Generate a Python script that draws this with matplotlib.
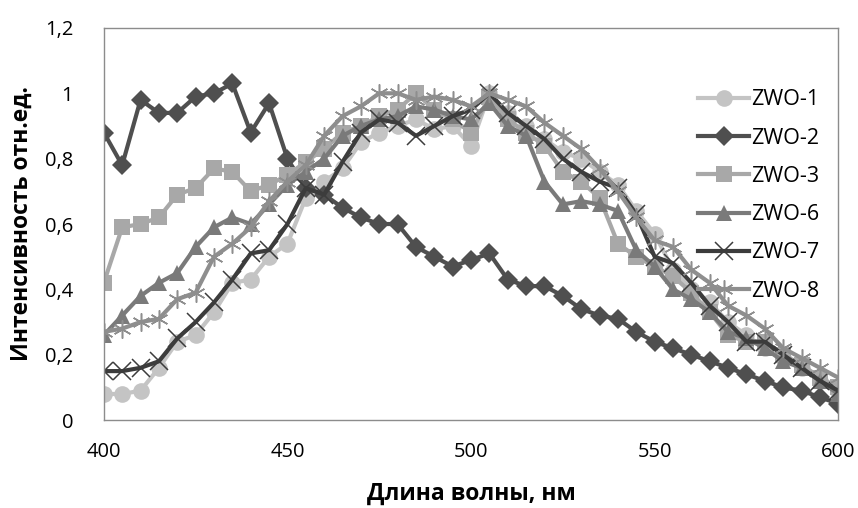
import matplotlib
matplotlib.use("Agg")
import matplotlib.pyplot as plt
from matplotlib.ticker import FuncFormatter

# длина волны, нм
wavelength = list(range(400, 601, 5))

zwo_1 = [0.08, 0.08, 0.09, 0.16, 0.24, 0.26, 0.33, 0.42, 0.43, 0.50,
         0.54, 0.68, 0.73, 0.77, 0.85, 0.88, 0.90, 0.92, 0.89, 0.90,
         0.84, 1.00, 0.94, 0.90, 0.86, 0.82, 0.80, 0.76, 0.72, 0.64,
         0.57, 0.46, 0.40, 0.36, 0.30, 0.26, 0.22, 0.19, 0.16, 0.12, 0.09]
zwo_2 = [0.88, 0.78, 0.98, 0.94, 0.94, 0.99, 1.00, 1.03, 0.88, 0.97,
         0.80, 0.71, 0.69, 0.65, 0.62, 0.60, 0.60, 0.53, 0.50, 0.47,
         0.49, 0.51, 0.43, 0.41, 0.41, 0.38, 0.34, 0.32, 0.31, 0.27,
         0.24, 0.22, 0.20, 0.18, 0.16, 0.14, 0.12, 0.10, 0.09, 0.07, 0.05]
zwo_3 = [0.42, 0.59, 0.60, 0.62, 0.69, 0.71, 0.77, 0.76, 0.70, 0.72,
         0.75, 0.79, 0.83, 0.88, 0.90, 0.93, 0.95, 1.00, 0.95, 0.92,
         0.88, 0.99, 0.92, 0.88, 0.84, 0.76, 0.73, 0.68, 0.54, 0.50,
         0.47, 0.44, 0.39, 0.33, 0.26, 0.24, 0.24, 0.20, 0.17, 0.13, 0.10]
zwo_6 = [0.26, 0.32, 0.38, 0.42, 0.45, 0.53, 0.59, 0.62, 0.60, 0.66,
         0.72, 0.76, 0.80, 0.87, 0.90, 0.92, 0.93, 0.96, 0.95, 0.93,
         0.92, 0.97, 0.90, 0.87, 0.73, 0.66, 0.67, 0.66, 0.64, 0.52,
         0.47, 0.40, 0.37, 0.33, 0.27, 0.25, 0.22, 0.18, 0.16, 0.12, 0.08]
zwo_7 = [0.15, 0.15, 0.16, 0.18, 0.25, 0.30, 0.36, 0.43, 0.51, 0.52,
         0.60, 0.71, 0.69, 0.79, 0.88, 0.92, 0.91, 0.87, 0.90, 0.93,
         0.95, 1.00, 0.94, 0.90, 0.86, 0.80, 0.76, 0.73, 0.71, 0.63,
         0.50, 0.48, 0.42, 0.35, 0.30, 0.24, 0.24, 0.20, 0.16, 0.12, 0.09]
zwo_8 = [0.27, 0.28, 0.30, 0.31, 0.37, 0.39, 0.50, 0.54, 0.59, 0.67,
         0.73, 0.78, 0.87, 0.93, 0.96, 1.00, 1.00, 0.98, 0.99, 0.98,
         0.96, 1.00, 0.98, 0.96, 0.91, 0.87, 0.83, 0.77, 0.70, 0.62,
         0.55, 0.53, 0.46, 0.42, 0.35, 0.32, 0.28, 0.22, 0.19, 0.16, 0.13]

names = ["ZWO-1", "ZWO-2", "ZWO-3", "ZWO-6", "ZWO-7", "ZWO-8"]
series = [zwo_1, zwo_2, zwo_3, zwo_6, zwo_7, zwo_8]
colors = ["#c4c4c4", "#4f4f4f", "#a8a8a8", "#7a7a7a", "#3c3c3c", "#8e8e8e"]
markers = ["o", "D", "s", "^", "x", (6, 2, 0)]
msizes = [12, 10, 12, 11, 13, 13]

plt.rcParams['font.family'] = ['Open Sans', 'DejaVu Sans']

fig = plt.figure(figsize=(8.58, 5.08), dpi=100)
ax = fig.add_axes([0.121, 0.173, 0.856, 0.772])

for name, ys, c, m, ms in zip(names, series, colors, markers, msizes):
    if m in ("o", "D", "s", "^"):
        ax.plot(wavelength, ys, color=c, lw=3, marker=m, markersize=ms,
                markeredgewidth=0, label=name)
    else:
        # у крестиков и звёздочек только контур
        ax.plot(wavelength, ys, color=c, lw=3, marker=m, markersize=ms,
                markeredgewidth=1.1, label=name)

ax.set_xlim(400, 600)
ax.set_ylim(0, 1.2)
ax.set_xticks([400, 450, 500, 550, 600])
ax.set_yticks([0, 0.2, 0.4, 0.6, 0.8, 1.0, 1.2])
ax.yaxis.set_major_formatter(FuncFormatter(lambda v, p: f"{v:g}".replace(".", ",")))
ax.tick_params(length=0, labelsize=14.5)
ax.tick_params(axis="y", pad=22)
ax.tick_params(axis="x", pad=16)

for s in ax.spines.values():
    s.set_color("#8c8c8c")
    s.set_linewidth(1)

ax.set_xlabel("Длина волны, нм", fontsize=16.5, fontweight="bold", labelpad=14)
ax.set_ylabel("Интенсивность отн.ед.", fontsize=16.5, fontweight="bold", labelpad=8)

ax.legend(loc="upper left", bbox_to_anchor=(0.797, 0.865), frameon=False,
          fontsize=15.5, handlelength=2.4, handletextpad=0.1,
          labelspacing=0.8, borderaxespad=0)

fig.savefig("out.png", dpi=100)
